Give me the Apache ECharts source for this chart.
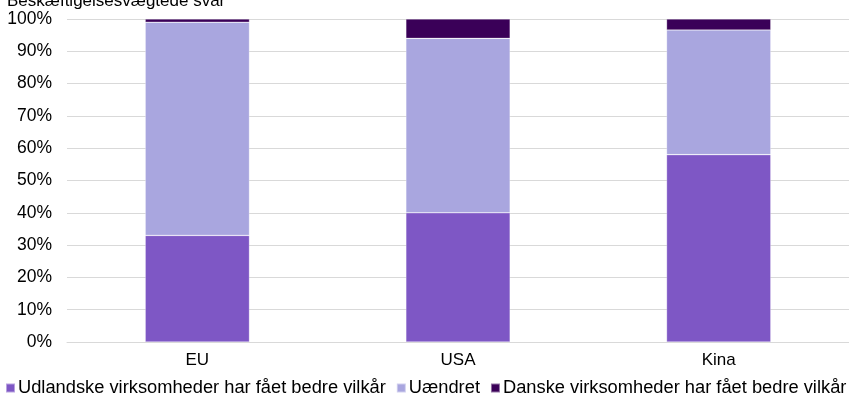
<!DOCTYPE html>
<html><head><meta charset="utf-8">
<script src="https://cdn.jsdelivr.net/npm/echarts@6/dist/echarts.min.js"></script>
<style>html,body{margin:0;padding:0;background:#fff}#c{width:849px;height:401px}</style>
</head><body><div id="c"></div>
<script>
const categories = ["EU", "USA", "Kina"];
const udlandske = [33, 40, 58];
const uaendret = [66, 54, 38.6];
const danske = [1, 6, 3.4];
const seriesNames = ["Udlandske virksomheder har fået bedre vilkår", "Uændret", "Danske virksomheder har fået bedre vilkår"];
const colors = ["#7E57C5", "#A9A6DF", "#3A0058"];
const titleText = "Beskæftigelsesvægtede svar";

const font = "Liberation Sans, Arial, sans-serif";
const chart = echarts.init(document.getElementById('c'), null, {renderer: 'canvas'});
const mk = (name, data, i) => ({
  name, type: 'bar', stack: 'a', data, barWidth: '40%',
  itemStyle: {color: colors[i], borderColor: 'rgba(255,255,255,0.45)', borderWidth: 0.6}
});
chart.setOption({
  animation: false,
  textStyle: {fontFamily: font},
  title: {text: titleText, left: 2, top: -12, textStyle: {fontSize: 17, fontWeight: 'normal', color: '#000', fontFamily: font}},
  grid: {left: 67, right: -5.5, top: 19, bottom: 59},
  legend: {
    left: 0, top: 374, width: 1200, itemWidth: 9, itemHeight: 9, itemGap: 10,
    icon: 'rect', textStyle: {fontSize: 18.3, color: '#000', fontFamily: font, padding: [0, 0, 0, -2]},
    data: seriesNames
  },
  xAxis: {
    type: 'category', data: categories,
    axisLine: {show: true, lineStyle: {color: '#d9d9d9'}},
    axisTick: {show: false},
    axisLabel: {fontSize: 17, color: '#000', margin: 10, fontFamily: font}
  },
  yAxis: {
    type: 'value', min: 0, max: 100, interval: 10,
    axisLabel: {formatter: '{value}%', fontSize: 17.5, color: '#000', margin: 15, fontFamily: font},
    splitLine: {lineStyle: {color: '#d9d9d9'}},
    axisLine: {show: false}, axisTick: {show: false}
  },
  series: [mk(seriesNames[0], udlandske, 0), mk(seriesNames[1], uaendret, 1), mk(seriesNames[2], danske, 2)]
});
</script></body></html>
